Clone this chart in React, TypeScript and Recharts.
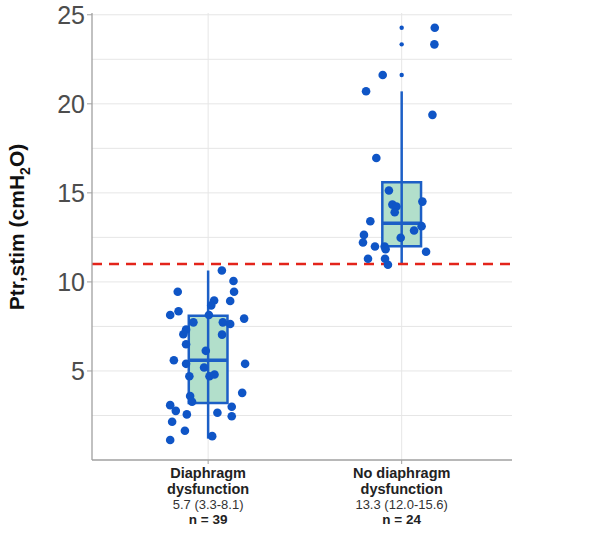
import { ScatterChart, Scatter, XAxis, YAxis, CartesianGrid, ReferenceLine, ReferenceArea, Label } from "recharts";

// group names and summary text under each tick
const groupNames = [
  ["Diaphragm", "dysfunction"],
  ["No diaphragm", "dysfunction"],
];
const groupSummary = ["5.7 (3.3-8.1)", "13.3 (12.0-15.6)"];
const groupN = ["n = 39", "n = 24"];

// boxplot stats: [lowWhisker, q1, median, q3, highWhisker]
const boxStats = [
  [1.2, 3.2, 5.6, 8.1, 10.64],
  [11.0, 12.0, 13.3, 15.6, 20.7],
];

const threshold = 11;
const yTicks = [5, 10, 15, 20, 25];
const gridValues = [2.5, 5, 7.5, 10, 12.5, 15, 17.5, 20, 22.5, 25];

// jittered observations: [x offset from group center, value]
const group1: [number, number][] = [
  [0.071, 10.64], [0.131, 10.05], [-0.157, 9.45], [0.134, 9.45], [0.031, 8.96],
  [0.114, 8.93], [0.016, 8.68], [-0.153, 8.35], [-0.196, 8.14], [0.004, 8.14],
  [0.186, 7.94], [-0.076, 7.73], [0.076, 7.73], [0.114, 7.64], [-0.114, 7.32],
  [-0.128, 7.06], [0.072, 7.04], [-0.114, 6.5], [-0.012, 6.13], [-0.177, 5.6],
  [-0.114, 5.4], [0.191, 5.4], [-0.021, 5.19], [-0.097, 4.7], [0.007, 4.7],
  [0.033, 4.8], [-0.093, 3.59], [-0.083, 3.27], [0.176, 3.77], [-0.196, 3.08],
  [-0.167, 2.76], [0.122, 2.99], [-0.11, 2.56], [0.048, 2.65], [0.122, 2.46],
  [-0.186, 2.15], [-0.12, 1.64], [-0.196, 1.12], [0.021, 1.34],
];
const group2: [number, number][] = [
  [0.171, 24.27], [0.169, 23.34], [-0.098, 21.62], [-0.184, 20.71], [0.159, 19.38],
  [-0.131, 16.96], [-0.066, 15.13], [0.107, 14.51], [-0.048, 14.34], [-0.027, 14.23],
  [-0.036, 13.91], [-0.162, 13.41], [0.103, 13.13], [0.064, 12.89], [-0.195, 12.64],
  [-0.005, 12.48], [-0.2, 12.21], [-0.138, 11.99], [-0.088, 11.99], [-0.083, 11.84],
  [0.126, 11.69], [-0.174, 11.3], [-0.086, 11.3], [-0.071, 10.96],
];
// boxplot outliers for group 2
const outliers2 = [24.27, 23.34, 21.62];

const BLUE = "#0f55c6";
const BOX_BLUE = "#1c5fc6";
const BOX_FILL = "#b2dfcb";
const HALF = 0.1;

const points = [
  ...group1.map(([dx, y]) => ({ x: 1 + dx, y })),
  ...group2.map(([dx, y]) => ({ x: 2 + dx, y })),
];
const outlierPts = outliers2.map((y) => ({ x: 2, y }));

function XTick(props: any) {
  const { x, y, payload } = props;
  const i = payload.value - 1;
  if (i < 0 || i > 1) return null;
  return (
    <g fontFamily="Liberation Sans, Arial, sans-serif" textAnchor="middle">
      <text x={x} y={y + 12} fontSize={14.5} fontWeight="bold" fill="#222">{groupNames[i][0]}</text>
      <text x={x} y={y + 28} fontSize={14.5} fontWeight="bold" fill="#222">{groupNames[i][1]}</text>
      <text x={x} y={y + 43} fontSize={13} fill="#333">{groupSummary[i]}</text>
      <text x={x} y={y + 58} fontSize={13.5} fontWeight="bold" fill="#222">{groupN[i]}</text>
    </g>
  );
}

function YLabel() {
  return (
    <text
      x={24}
      y={227}
      transform="rotate(-90, 24, 227)"
      textAnchor="middle"
      fontFamily="Liberation Sans, Arial, sans-serif"
      fontSize={21}
      fontWeight="bold"
      fill="#111"
    >
      Ptr,stim (cmH<tspan fontSize={14} dy={6}>2</tspan><tspan dy={-6}>O)</tspan>
    </text>
  );
}

const dot = (r: number) => (p: any) => <circle cx={p.cx} cy={p.cy} r={r} fill={BLUE} />;

export default function App() {
  return (
    <div style={{ position: "absolute", left: 0, top: 0, fontFamily: "Liberation Sans, Arial, sans-serif" }}>
      <ScatterChart width={600} height={545} margin={{ top: 13, right: 88, bottom: 0, left: 0 }}>
        <CartesianGrid stroke="#e6e6e6" horizontalValues={gridValues} verticalValues={[1, 2]} />
        <XAxis
          type="number"
          dataKey="x"
          domain={[0.4, 2.57]}
          ticks={[1, 2]}
          height={85}
          axisLine={{ stroke: "#a0a0a0", strokeWidth: 1.3 }}
          tickLine={{ stroke: "#a0a0a0" }}
          tickSize={4}
          tickMargin={2}
          tick={<XTick />}
          allowDataOverflow
        />
        <YAxis
          type="number"
          dataKey="y"
          domain={[0, 25.1]}
          ticks={yTicks}
          width={92}
          axisLine={{ stroke: "#a0a0a0", strokeWidth: 1.3 }}
          tickLine={{ stroke: "#a0a0a0" }}
          tickSize={5}
          tickMargin={2}
          tick={{ fontSize: 25, fill: "#4d4d4d", fontFamily: "Liberation Sans, Arial, sans-serif" }}
          allowDataOverflow
        >
          <Label content={<YLabel />} />
        </YAxis>
        {boxStats.map((s, i) => (
          <ReferenceLine
            key={`wl-${i}`}
            segment={[{ x: i + 1, y: s[0] }, { x: i + 1, y: s[4] }]}
            stroke={BOX_BLUE}
            strokeWidth={2.5}
          />
        ))}
        {boxStats.map((s, i) => (
          <ReferenceArea
            key={`box-${i}`}
            x1={i + 1 - HALF}
            x2={i + 1 + HALF}
            y1={s[1]}
            y2={s[3]}
            fill={BOX_FILL}
            fillOpacity={1}
            stroke={BOX_BLUE}
            strokeWidth={2.5}
          />
        ))}
        {boxStats.map((s, i) => (
          <ReferenceLine
            key={`med-${i}`}
            segment={[{ x: i + 1 - HALF, y: s[2] }, { x: i + 1 + HALF, y: s[2] }]}
            stroke={BOX_BLUE}
            strokeWidth={3.5}
          />
        ))}
        <ReferenceLine y={threshold} stroke="#e3241b" strokeWidth={2.5} strokeDasharray="10 7" />
        <Scatter data={outlierPts} shape={dot(2.2)} isAnimationActive={false} />
        <Scatter data={points} shape={dot(4.3)} isAnimationActive={false} />
      </ScatterChart>
    </div>
  );
}
